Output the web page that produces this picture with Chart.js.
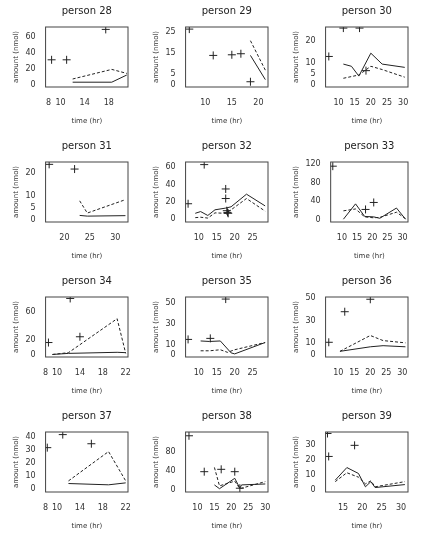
<!DOCTYPE html>
<html><head><meta charset="utf-8">
<script src="https://cdn.jsdelivr.net/npm/chart.js@4"></script>
<style>
body{margin:0;background:#fff;width:421px;height:550px;position:relative;overflow:hidden}
.p{position:absolute;width:140px;height:135px}
</style></head><body>
<script>
const persons=[28,29,30,31,32,33,34,35,36,37,38,39];
const xRanges=[[7.5,21.2],[6.3,21.8],[6,31.5],[16.3,32.5],[6.3,29.3],[6.3,31.8],[8,22.4],[6.3,29.3],[6,31.8],[8,22.4],[6.5,30.8],[10.5,31.8]];
const yRanges=[[-3,72],[-1,27.5],[-1,26.5],[-1,24.5],[-3,66],[-5,124],[-3,80],[-2,56],[-2,51],[-2,44],[-5,122],[-1.5,39]];
const xTicks=[[8,10,14,18],[10,15,20],[10,15,20,25,30],[20,25,30],[10,15,20,25],[10,15,20,25,30],[8,10,14,18,22],[10,15,20,25],[10,15,20,25,30],[8,10,14,18,22],[10,15,20,25,30],[15,20,25,30]];
const yTicks=[[0,20,40,60],[0,5,15,25],[0,5,10,20],[0,5,10,20],[0,20,40,60],[0,40,80,120],[0,20,60],[0,10,30,50],[0,10,30,50],[0,10,20,30,40],[0,40,80],[0,10,20,30]];
const obsPts=[
[[8.5,31],[11,31],[17.5,69]],
[[7,26.5],[11.5,14],[15,14.3],[16.7,14.8],[18.5,1.5]],
[[7,13],[11.5,26],[16.5,26],[18.5,6.5]],
[[17,23.5],[22,21.5]],
[[7,18],[11.5,63],[17.5,35],[17.5,24],[17.8,10],[18,8],[18.2,7]],
[[7,115],[17.8,22],[20.5,37]],
[[8.5,17],[12.3,78],[14,25]],
[[7,15],[13.2,16],[17.5,54]],
[[7,11],[12,38],[20,49]],
[[8.3,32],[11,42],[16,35]],
[[7.5,114],[12,38],[17,43],[21,38],[22.5,3]],
[[11,38],[11.3,22.5],[18,30]]];
const solidPts=[
[[12,3],[18.5,3],[21,12]],
[[18.5,14],[21.3,2.5]],
[[11.5,9.5],[14,8.5],[16.3,4],[20,14.5],[23.5,9.5],[30.5,8]],
[[23,1.8],[24.5,1.5],[32,1.7]],
[[9,7],[10.5,9],[12.5,4.5],[14.5,11],[17.5,13],[19,14.5],[23.3,29],[28.5,15.5]],
[[10.5,1],[14.5,34],[17.5,7],[20.5,6],[22.5,3],[28,25],[31,1]],
[[9.2,0.5],[12,2],[20.5,3.5],[22,3]],
[[10.5,13.5],[13,13],[16,13.5],[19,2],[20,1],[28.5,12]],
[[10.5,3],[20,7],[24,8],[31,7]],
[[12,4.5],[19,3.5],[22,5]],
[[15,10],[16.5,2],[21,24],[22.5,3],[23,10],[30,12]],
[[13,6.5],[16,15],[19,11],[20.8,2],[22.2,5.5],[23.3,1.5],[31,3.5]]];
const dashPts=[
[[12,7],[18.5,19],[21,14]],
[[18.5,21],[21.3,7]],
[[11.5,3],[16.3,4.5],[20,8.5],[23.5,7],[30.5,3.5]],
[[23,8],[24.5,2.8],[32,8.5]],
[[9,2],[10.5,2.5],[12.5,1.5],[14.5,7.5],[17.5,7],[19,11],[23.3,24],[28.5,9.5]],
[[10.5,19],[14.5,23],[17.5,6],[20.5,4],[22.5,5],[28,16],[31,2]],
[[9.2,0.5],[12,3],[20.5,50],[22,2]],
[[10.5,4],[13,4],[16,5],[18,2.5],[20,5],[28.5,12]],
[[10.5,3],[20,17],[24,12.5],[31,10.5]],
[[12,6.5],[19,29],[22,6.5]],
[[15,47],[16.5,8],[21,18],[22.5,2],[23,3],[30,17]],
[[13,5.5],[16,11.5],[19,8.5],[20.8,4],[22.2,6],[23.3,2],[31,5.5]]];

Chart.defaults.font.family='"DejaVu Sans", sans-serif';
Chart.defaults.color='#333';
const boxPlugin={id:'box',afterDraw(c){const a=c.chartArea,g=c.ctx;g.save();g.strokeStyle='#444';g.lineWidth=1;g.strokeRect(a.left,a.top,a.right-a.left,a.bottom-a.top);
  g.fillStyle='#222';g.font='10px "DejaVu Sans", sans-serif';g.textAlign='center';g.textBaseline='middle';
  g.fillText(c.options.plugins.box.text,(a.left+a.right)/2,11);g.restore();}};
const toXY=a=>a.map(p=>({x:p[0],y:p[1]}));
persons.forEach((p,i)=>{
  const d=document.createElement('div');d.className='p';
  d.style.left=(140*(i%3))+'px';d.style.top=(135*Math.floor(i/3))+'px';
  const cv=document.createElement('canvas');d.appendChild(cv);document.body.appendChild(d);
  new Chart(cv,{type:'scatter',plugins:[boxPlugin],
    data:{datasets:[
      {data:toXY(obsPts[i]),pointStyle:'cross',pointRadius:4,borderColor:'#222',borderWidth:1,showLine:false},
      {data:toXY(solidPts[i]),showLine:true,borderColor:'#222',borderWidth:1,pointRadius:0},
      {data:toXY(dashPts[i]),showLine:true,borderColor:'#222',borderWidth:1,borderDash:[3,2],pointRadius:0}]},
    options:{responsive:true,maintainAspectRatio:false,animation:false,
      layout:{padding:{left:8,right:12,top:27,bottom:6}},
      plugins:{legend:{display:false},tooltip:{enabled:false},title:{display:false},box:{text:'person '+p}},
      scales:{
        x:{type:'linear',min:xRanges[i][0],max:xRanges[i][1],grid:{display:false},border:{display:false},
          afterBuildTicks:ax=>{ax.ticks=xTicks[i].map(v=>({value:v}));},
          ticks:{font:{size:8},maxRotation:0,autoSkip:false,padding:3},
          title:{display:true,text:'time (hr)',font:{size:7},padding:{top:6}}},
        y:{type:'linear',min:yRanges[i][0],max:yRanges[i][1],grid:{display:false},border:{display:false},
          afterBuildTicks:ax=>{ax.ticks=yTicks[i].map(v=>({value:v}));},
          ticks:{font:{size:8},autoSkip:false,padding:2},
          title:{display:true,text:'amount (nmol)',font:{size:7},padding:{bottom:3}}}
      }}});
});
</script></body></html>
